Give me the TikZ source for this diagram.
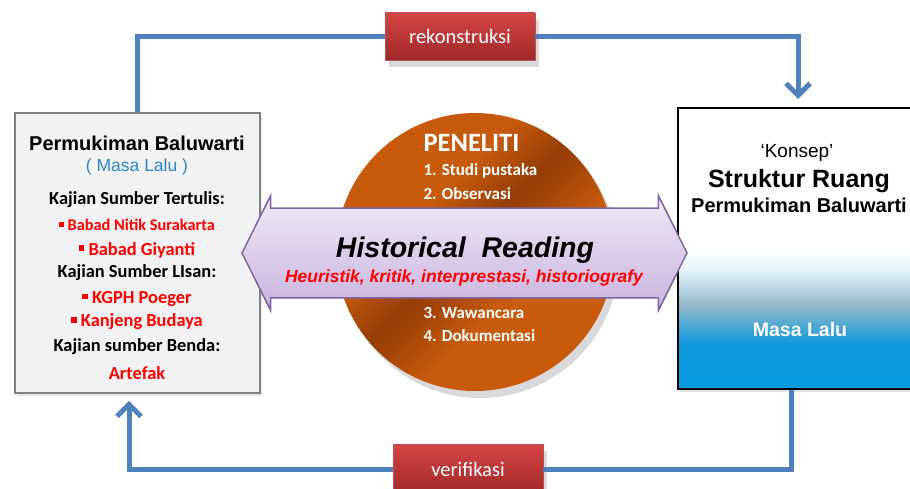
\documentclass[tikz,border=0pt]{standalone}
\usepackage{fontspec}
\setmainfont{Liberation Sans}
\newfontfamily\calibri{Carlito}
\usetikzlibrary{shapes.arrows,shadows,arrows.meta}
\definecolor{loopblue}{HTML}{4F81BD}
\definecolor{tagtop}{HTML}{D64545}
\definecolor{tagbot}{HTML}{A02828}
\definecolor{boxgray}{HTML}{F2F2F2}
\definecolor{boxedge}{HTML}{808080}
\definecolor{erablue}{HTML}{2E86C8}
\definecolor{discorange}{HTML}{C85A0C}
\definecolor{discdark}{HTML}{953D06}
\definecolor{lavtop}{HTML}{F0EAF7}
\definecolor{lavbot}{HTML}{C9B3DE}
\definecolor{lavedge}{HTML}{8064A2}
\definecolor{skyblue}{HTML}{049CE0}
\pgfdeclareverticalshading{konsepfill}{100bp}{color(0bp)=(skyblue); color(25bp)=(skyblue);
  color(33bp)=(skyblue!85!loopblue); color(40bp)=(skyblue!40!gray!60!white); color(46bp)=(skyblue!12!white);
  color(50bp)=(white); color(100bp)=(white)}
\pgfdeclarehorizontalshading{discfill}{100bp}{color(0bp)=(discorange); color(38bp)=(discorange);
  color(48bp)=(discdark); color(52bp)=(discdark!70!discorange); color(60bp)=(discorange); color(100bp)=(discorange)}
\tikzset{
  loopline/.style={line width=5pt, draw=loopblue, >={Straight Barb[length=12pt,width=24pt]}},
  tagbox/.style={rectangle, minimum width=150pt, minimum height=47pt, top color=tagtop, bottom color=tagbot,
    draw=tagbot!80!white, text=white, font=\calibri\fontsize{20.5}{24}\selectfont,
    drop shadow={opacity=.3, shadow xshift=4pt, shadow yshift=-7pt}},
  srcbox/.style={rectangle, minimum width=245pt, minimum height=280pt, fill=boxgray, draw=boxedge,
    line width=1.6pt, drop shadow={opacity=.2, shadow xshift=2pt, shadow yshift=-3pt}},
  konsepbox/.style={rectangle, minimum width=240pt, minimum height=281pt, shade, shading=konsepfill,
    draw=black, line width=2pt, drop shadow={opacity=.2, shadow xshift=2pt, shadow yshift=-3pt}},
  disc/.style={circle, minimum size=278pt, shade, shading=discfill, shading angle=-45,
    drop shadow={opacity=.3, shadow xshift=5pt, shadow yshift=-7pt}},
  readarrow/.style={double arrow, minimum height=445pt, text height=0pt, text depth=0pt,
    inner xsep=0pt, inner ysep=44pt, double arrow head extend=12.5pt, double arrow tip angle=127,
    top color=lavtop, bottom color=lavbot, draw=lavedge, line width=1.5pt},
  srctitle/.style={font=\bfseries\fontsize{20}{24}\selectfont},
  era/.style={text=erablue, font=\fontsize{17.5}{20}\selectfont},
  kajian/.style={font=\calibri\bfseries\fontsize{18.4}{22}\selectfont},
  item/.style={kajian, text=red},
  method/.style={anchor=west, text=white, font=\calibri\bfseries\fontsize{17}{20}\selectfont},
}
\newcommand{\bul}{\rule[0.22em]{0.3em}{0.3em}\ }

\begin{document}
\begin{tikzpicture}[x=1pt, y=-1pt]
\useasboundingbox (0,0) rectangle (910,489);
% boxes and tags
\node[srcbox] (past) at (137.5,253) {};
\node[konsepbox] (konsep) at (798,248.5) {};
\node[disc] (peneliti) at (475,252) {};
\node[tagbox] (rekon) at (460,36.5) {rekonstruksi};
\node[tagbox, minimum height=50pt] (verif) at (468,469) {verifikasi};
% loop
\draw[loopline] (past.north) |- (rekon.west);
\draw[loopline,->,shorten >=8pt] (rekon.east) -| (konsep.north);
\draw[loopline] ([xshift=-7pt]konsep.south) |- (verif.east);
\draw[loopline,->,shorten >=7pt] (verif.west) -| ([xshift=-8.5pt]past.south);
% left box
\node[srctitle] (pb) at (137,143) {Permukiman Baluwarti};
\node[era] (ml) at (137,167) {( Masa Lalu )};
\node[kajian] (k1) at (137,200) {Kajian Sumber Tertulis:};
\node[item, font=\calibri\bfseries\fontsize{16.3}{20}\selectfont] (i1) at (137,225) {\bul Babad Nitik Surakarta};
\node[item] (i2) at (137,250) {\bul Babad Giyanti};
\node[kajian] (k2) at (137,273) {Kajian Sumber LIsan:};
\node[item] (i3) at (137,299) {\bul KGPH Poeger};
\node[item] (i4) at (137,322) {\bul Kanjeng Budaya};
\node[kajian] (k3) at (137,347) {Kajian sumber Benda:};
\node[item] (i5) at (137,373) {Artefak};
% right box
\node[font=\fontsize{19}{22}\selectfont] (ks) at (797,153) {‘Konsep’};
\node[font=\bfseries\fontsize{25}{28}\selectfont] (sr) at (799,181) {Struktur Ruang};
\node[srctitle] (pb2) at (799,205) {Permukiman Baluwarti};
\node[text=white, font=\bfseries\fontsize{19.5}{22}\selectfont] (ml2) at (800,330) {Masa Lalu};
% circle
\node[method, font=\calibri\bfseries\fontsize{26.5}{30}\selectfont] (pt) at (420,143) {PENELITI};
\node[method] (m1) at (420,171) {1. Studi pustaka};
\node[method] (m2) at (420,194) {2. Observasi};
\node[method] (m3) at (420,313) {3. Wawancara};
\node[method] (m4) at (420,336) {4. Dokumentasi};
% arrow
\node[readarrow] (reading) at (464.5,253) {};
\node[font=\bfseries\itshape\fontsize{28.5}{32}\selectfont] (hr) at (465,250) {Historical\ \ Reading};
\node[text=red, font=\bfseries\itshape\fontsize{17.5}{20}\selectfont] (hs) at (464,278)
  {Heuristik, kritik, interprestasi, historiografy};
\end{tikzpicture}
\end{document}
